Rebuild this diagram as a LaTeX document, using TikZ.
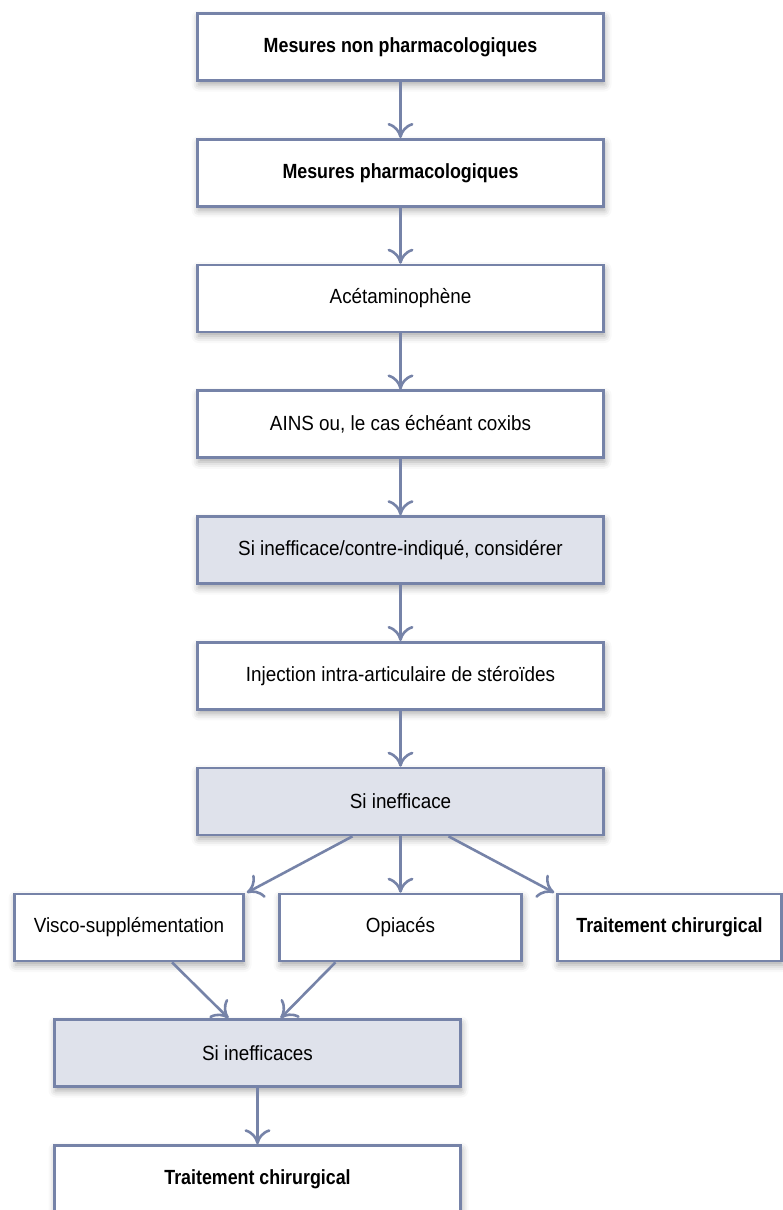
\documentclass[tikz,border=0pt]{standalone}
\usepackage{fontspec}
\setmainfont[FakeStretch=0.92, BoldFeatures={FakeStretch=0.87}]{Liberation Sans}
\usepackage{tikz}
\usetikzlibrary{arrows.meta,
shadows.blur
}
\definecolor{BoxLine}{HTML}{7683A8}
\definecolor{BoxFill}{HTML}{DFE2EB}
\tikzset{>={Computer Modern Rightarrow[length=15pt, width=26pt]}}
\tikzset{
  stage/.style={draw=BoxLine, line width=2.6pt, fill=white,
    minimum width=406pt, minimum height=67pt, inner sep=0pt,
    font=\fontsize{20.5}{24}\selectfont,
    blur shadow={shadow xshift=1pt, shadow yshift=-4pt,
      shadow blur radius=7pt, shadow opacity=35}},
  query/.style={stage, fill=BoxFill},
  keystage/.style={stage, font=\fontsize{20.5}{24}\selectfont\bfseries},
  flow/.style={BoxLine, line width=2.6pt, ->}
}

\begin{document}
\begin{tikzpicture}[x=1pt, y=-1pt]
  \useasboundingbox (0, 0) rectangle (783, 1210);

  % main column
  \node[keystage] (nonpharm) at (400.5, 47) {Mesures non pharmacologiques};
  \node[keystage] (pharm) at (400.5, 172.75) {Mesures pharmacologiques};
  \node[stage] (acetam) at (400.5, 298.5) {Acétaminophène};
  \node[stage] (ains) at (400.5, 424.25) {AINS ou, le cas échéant coxibs};
  \node[query] (contra) at (400.5, 550) {Si inefficace/contre-indiqué, considérer};
  \node[stage] (inject) at (400.5, 675.75) {Injection intra-articulaire de stéroïdes};
  \node[query] (fail) at (400.5, 801.5) {Si inefficace};

  % three options
  \node[stage, minimum width=229pt] (visco) at (129, 927.5) {Visco-supplémentation};
  \node[stage, minimum width=242pt] (opiates) at (400.5, 927.5) {Opiacés};
  \node[keystage, minimum width=224pt] (surgeryA) at (669.5, 927.5) {Traitement chirurgical};

  \node[query] (fails) at (257.5, 1053) {Si inefficaces};
  \node[keystage] (surgeryB) at (257.5, 1179) {Traitement chirurgical};

  \draw[flow] (nonpharm) -- (pharm);
  \draw[flow] (pharm) -- (acetam);
  \draw[flow] (acetam) -- (ains);
  \draw[flow] (ains) -- (contra);
  \draw[flow] (contra) -- (inject);
  \draw[flow] (inject) -- (fail);

  \draw[flow] ([xshift=-48pt]fail.south) -- ([xshift=2pt]visco.north east);
  \draw[flow] (fail) -- (opiates);
  \draw[flow] ([xshift=48pt]fail.south) -- ([xshift=-2pt]surgeryA.north west);

  \draw[flow] ([xshift=43pt]visco.south) -- ([xshift=-29pt]fails.north);
  \draw[flow] ([xshift=-65pt]opiates.south) -- ([xshift=23pt]fails.north);
  \draw[flow] (fails) -- (surgeryB);
\end{tikzpicture}
\end{document}
